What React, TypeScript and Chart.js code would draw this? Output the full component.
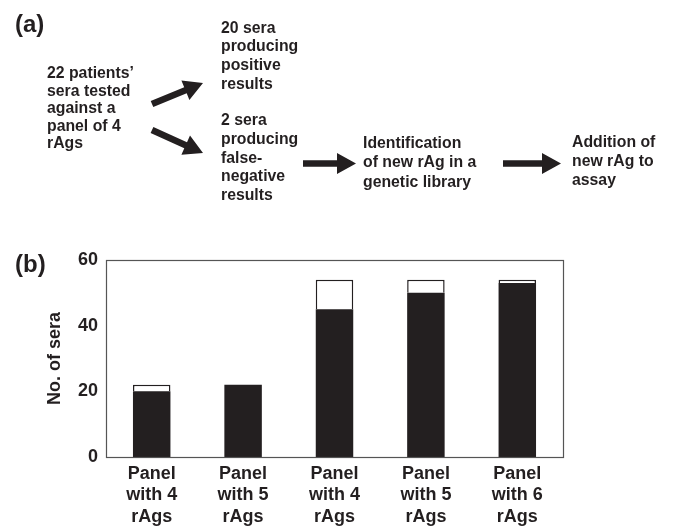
import React, { useEffect, useRef } from 'react';
import { Chart, registerables } from 'chart.js';

Chart.register(...registerables);

// ---------- data ----------
const categories: string[][] = [
  ['Panel', 'with 4', 'rAgs'],
  ['Panel', 'with 5', 'rAgs'],
  ['Panel', 'with 4', 'rAgs'],
  ['Panel', 'with 5', 'rAgs'],
  ['Panel', 'with 6', 'rAgs'],
];
const positiveSera = [20, 22, 45, 50, 53];
const falseNegativeSera = [2, 0, 9, 4, 1];
const yMin = 0;
const yMax = 60;
const yStep = 20;
const yTitle = 'No. of sera';

const leftBlock = ['22 patients\u2019', 'sera tested', 'against a', 'panel of 4', 'rAgs'];
const positiveBlock = ['20 sera', 'producing', 'positive', 'results'];
const negativeBlock = ['2 sera', 'producing', 'false-', 'negative', 'results'];
const identBlock = ['Identification', 'of new rAg in a', 'genetic library'];
const additionBlock = ['Addition of', 'new rAg to', 'assay'];

const INK = '#231f20';
const FONT = "'Liberation Sans', Arial, Helvetica, sans-serif";

const framePlugin = {
  id: 'frame',
  afterDatasetsDraw(chart: any) {
    const { ctx, chartArea } = chart;
    const { left, top, right, bottom } = chartArea;
    ctx.save();
    ctx.strokeStyle = '#555555';
    ctx.lineWidth = 1.2;
    ctx.strokeRect(Math.round(left) + 0.5, Math.round(top) + 0.5, right - left, bottom - top);
    ctx.restore();
  },
};

function Arrow({ x1, y1, x2, y2 }: { x1: number; y1: number; x2: number; y2: number }) {
  const dx = x2 - x1;
  const dy = y2 - y1;
  const len = Math.sqrt(dx * dx + dy * dy);
  const ux = dx / len;
  const uy = dy / len;
  const px = -uy;
  const py = ux;
  const shaft = 3.3;
  const headLen = 19;
  const headHalf = 10.5;
  const bx = x2 - ux * headLen;
  const by = y2 - uy * headLen;
  const pts = [
    [x1 + px * shaft, y1 + py * shaft],
    [bx + px * shaft, by + py * shaft],
    [bx + px * headHalf, by + py * headHalf],
    [x2, y2],
    [bx - px * headHalf, by - py * headHalf],
    [bx - px * shaft, by - py * shaft],
    [x1 - px * shaft, y1 - py * shaft],
  ]
    .map((p) => p[0].toFixed(1) + ',' + p[1].toFixed(1))
    .join(' ');
  return <polygon points={pts} fill={INK} />;
}

function TextBlock({ lines, x, y, lh }: { lines: string[]; x: number; y: number; lh: number }) {
  return (
    <div
      style={{
        position: 'absolute',
        left: x,
        top: y,
        fontFamily: FONT,
        fontWeight: 'bold',
        fontSize: '15.8px',
        lineHeight: lh + 'px',
        color: INK,
        whiteSpace: 'nowrap',
      }}
    >
      {lines.map((l, i) => (
        <div key={i}>{l}</div>
      ))}
    </div>
  );
}

function PanelLabel({ text, x, y }: { text: string; x: number; y: number }) {
  return (
    <div
      style={{
        position: 'absolute',
        left: x,
        top: y,
        fontFamily: FONT,
        fontWeight: 'bold',
        fontSize: '24px',
        lineHeight: '24px',
        color: INK,
        whiteSpace: 'nowrap',
      }}
    >
      {text}
    </div>
  );
}

export default function App() {
  const canvasRef = useRef<HTMLCanvasElement | null>(null);

  useEffect(() => {
    if (!canvasRef.current) return;
    const chart = new Chart(canvasRef.current, {
      type: 'bar',
      data: {
        labels: categories,
        datasets: [
          {
            label: 'Positive',
            data: positiveSera,
            backgroundColor: INK,
            borderWidth: 0,
            barPercentage: 0.41,
            categoryPercentage: 1,
          },
          {
            label: 'False-negative',
            data: falseNegativeSera,
            backgroundColor: '#ffffff',
            borderColor: INK,
            borderWidth: 1.5,
            barPercentage: 0.41,
            categoryPercentage: 1,
          },
        ],
      },
      options: {
        responsive: false,
        animation: false,
        devicePixelRatio: 1,
        layout: { padding: { top: 260, right: 110, bottom: 0, left: 0 } },
        plugins: {
          legend: { display: false },
          tooltip: { enabled: false },
          title: { display: false },
        },
        scales: {
          x: {
            stacked: true,
            grid: { display: false, drawTicks: false },
            border: { display: false },
            ticks: {
              color: INK,
              padding: 6,
              maxRotation: 0,
              autoSkip: false,
              font: { family: FONT, weight: 'bold', size: 18, lineHeight: 1.2 },
            },
            afterFit: (s: any) => {
              s.height = 69;
            },
          },
          y: {
            stacked: true,
            min: yMin,
            max: yMax,
            grid: { display: false, drawTicks: false },
            border: { display: false },
            ticks: {
              stepSize: yStep,
              color: INK,
              padding: 8,
              font: { family: FONT, weight: 'bold', size: 18 },
            },
            title: {
              display: true,
              text: yTitle,
              color: INK,
              font: { family: FONT, weight: 'bold', size: 18, lineHeight: 1.2 },
              padding: { top: 44, bottom: 0 },
            },
            afterFit: (s: any) => {
              s.width = 106;
            },
          },
        },
      } as any,
      plugins: [framePlugin],
    });
    return () => chart.destroy();
  }, []);

  return (
    <div style={{ position: 'absolute', left: 0, top: 0, width: 673, height: 526, background: '#fff' }}>
      <canvas
        ref={canvasRef}
        width={673}
        height={526}
        style={{ position: 'absolute', left: 0, top: 0, width: 673, height: 526, display: 'block' }}
      />
      <svg
        width={673}
        height={240}
        style={{ position: 'absolute', left: 0, top: 0 }}
      >
        <Arrow x1={152} y1={104} x2={203} y2={83} />
        <Arrow x1={152} y1={130} x2={203} y2={153} />
        <Arrow x1={303} y1={163.5} x2={356} y2={163.5} />
        <Arrow x1={503} y1={163.5} x2={561} y2={163.5} />
      </svg>
      <PanelLabel text="(a)" x={15} y={12.2} />
      <PanelLabel text="(b)" x={15} y={252.2} />
      <TextBlock lines={leftBlock} x={47} y={64.1} lh={17.5} />
      <TextBlock lines={positiveBlock} x={221} y={18.5} lh={18.7} />
      <TextBlock lines={negativeBlock} x={221} y={111.2} lh={18.7} />
      <TextBlock lines={identBlock} x={363} y={132.5} lh={19.5} />
      <TextBlock lines={additionBlock} x={572} y={131.6} lh={19.3} />
    </div>
  );
}
